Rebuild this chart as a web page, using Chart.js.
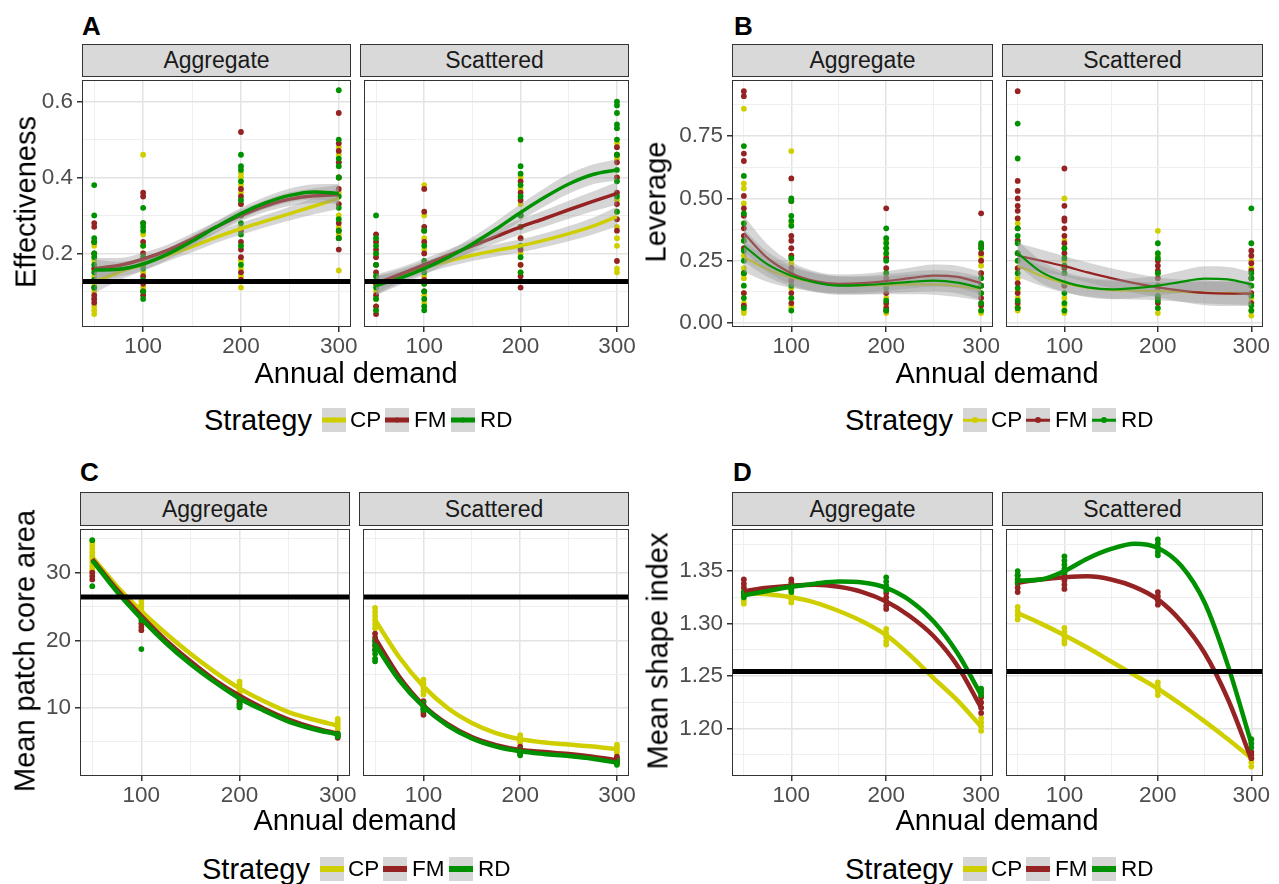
<!DOCTYPE html>
<html>
<head>
<meta charset="utf-8">
<script src="https://cdn.jsdelivr.net/npm/chart.js@4.4.1/dist/chart.umd.min.js"></script>
<style>
body{margin:0;background:#fff;width:1279px;height:884px;position:relative;overflow:hidden;font-family:"Liberation Sans",Arial,Helvetica,sans-serif}
canvas{position:absolute}
.t{position:absolute;white-space:nowrap;line-height:normal}
.tag{font-weight:bold;font-size:26px;color:#000;transform:translateY(-50%)}
.strip{position:absolute;box-sizing:border-box;background:#d9d9d9;border:1px solid #333;font-size:23px;color:#1a1a1a;display:flex;align-items:center;justify-content:center}
.xt{font-size:29px;color:#000;transform:translate(-50%,-50%)}
.yt{font-size:29px;color:#000;transform:translate(-50%,-50%) rotate(-90deg)}
.lgt{font-size:29px;color:#000;transform:translateY(-50%)}
.lgl{font-size:22.5px;color:#000;transform:translateY(-50%)}
.key{position:absolute;width:24px;height:24px;background:#d6d6d6;transform:translateY(-50%)}
.key i{position:absolute;left:0;right:0;top:50%;transform:translateY(-50%)}
.key b{position:absolute;left:50%;top:50%;border-radius:50%;transform:translate(-50%,-50%)}
</style>
</head>
<body>
<script>
// shared axes
const demand=[50,100,200,300];
const fitX=[50,75,100,125,150,175,200,225,250,275,300];
const xTicks=[50,100,150,200,250,300];
const xLabels=['','100','','200','','300'];
const strategies=['CP','FM','RD'];
const colors=['#cfcf00','#952323','#009100'];

// A - Effectiveness (points per demand level: 50, 100, 200, 300)
const effAggCP=[[0.23,0.22,0.18,0.16,0.14,0.12,0.10,0.08,0.06,0.05,0.04],[0.46,0.25,0.22,0.20,0.18,0.15,0.13,0.11,0.10],[0.41,0.40,0.38,0.36,0.33,0.27,0.22,0.18,0.16,0.14,0.11],[0.48,0.46,0.44,0.40,0.36,0.33,0.30,0.27,0.25,0.155]];
const effAggFM=[[0.28,0.27,0.23,0.20,0.16,0.13,0.11,0.09,0.08,0.07],[0.36,0.35,0.28,0.23,0.20,0.17,0.14,0.12,0.10,0.09],[0.52,0.37,0.35,0.33,0.30,0.26,0.23,0.21,0.19,0.15,0.13],[0.57,0.49,0.47,0.44,0.40,0.37,0.33,0.28,0.26,0.24,0.21]];
const effAggRD=[[0.38,0.30,0.24,0.23,0.20,0.19,0.17,0.15,0.13,0.11],[0.32,0.28,0.27,0.26,0.22,0.19,0.16,0.13,0.10,0.08],[0.46,0.43,0.42,0.39,0.34,0.30,0.28,0.25,0.22,0.17],[0.63,0.50,0.45,0.43,0.40,0.35,0.32,0.29,0.26,0.24]];
const effScatCP=[[0.23,0.20,0.17,0.14,0.12,0.10,0.08,0.06,0.05],[0.38,0.30,0.24,0.21,0.17,0.14,0.12,0.09,0.07],[0.40,0.37,0.33,0.30,0.27,0.24,0.20,0.17,0.15],[0.49,0.45,0.40,0.34,0.31,0.27,0.24,0.22,0.16,0.15]];
const effScatFM=[[0.25,0.23,0.21,0.19,0.17,0.15,0.12,0.09,0.06,0.04],[0.37,0.31,0.27,0.26,0.23,0.20,0.17,0.13,0.10],[0.39,0.36,0.34,0.30,0.27,0.24,0.21,0.17,0.14,0.11],[0.48,0.46,0.44,0.40,0.36,0.33,0.29,0.26,0.18]];
const effScatRD=[[0.30,0.24,0.22,0.20,0.17,0.14,0.11,0.08,0.05],[0.26,0.22,0.18,0.15,0.12,0.10,0.08,0.06,0.05],[0.50,0.43,0.41,0.38,0.35,0.30,0.27,0.22,0.19,0.15],[0.60,0.59,0.57,0.54,0.53,0.50,0.46,0.42,0.39,0.35,0.31]];
// smoothed fits at fitX, and half-width of the grey band
const effAggCPfit=[0.125,0.15,0.172,0.195,0.218,0.243,0.265,0.285,0.305,0.325,0.345];
const effAggFMfit=[0.16,0.168,0.185,0.208,0.238,0.27,0.30,0.325,0.343,0.352,0.355];
const effAggRDfit=[0.156,0.158,0.172,0.198,0.232,0.27,0.305,0.333,0.353,0.362,0.358];
const effScatCPfit=[0.115,0.14,0.163,0.18,0.195,0.208,0.22,0.235,0.252,0.272,0.297];
const effScatFMfit=[0.12,0.145,0.17,0.195,0.22,0.245,0.27,0.292,0.315,0.337,0.358];
const effScatRDfit=[0.115,0.135,0.16,0.19,0.225,0.265,0.308,0.348,0.383,0.408,0.42];
const effAggCPse=[0.03,0.022,0.018,0.016,0.015,0.015,0.016,0.016,0.018,0.022,0.028];
const effAggFMse=[0.028,0.02,0.017,0.015,0.015,0.015,0.015,0.016,0.018,0.02,0.025];
const effAggRDse=[0.028,0.02,0.017,0.015,0.015,0.015,0.015,0.016,0.018,0.02,0.025];
const effScatCPse=[0.025,0.018,0.016,0.015,0.015,0.016,0.017,0.018,0.02,0.022,0.026];
const effScatFMse=[0.025,0.018,0.016,0.015,0.016,0.018,0.02,0.022,0.024,0.026,0.03];
const effScatRDse=[0.025,0.018,0.016,0.016,0.018,0.02,0.022,0.024,0.026,0.026,0.028];
const effRef=0.126;
const effTicks=[0.1,0.2,0.3,0.4,0.5,0.6];
const effLabels=['','0.2','','0.4','','0.6'];

// B - Leverage
const levAggCP=[[0.86,0.56,0.54,0.48,0.40,0.33,0.27,0.22,0.18,0.12,0.08,0.05,0.04],[0.69,0.40,0.27,0.24,0.18,0.14,0.10,0.07,0.06],[0.33,0.30,0.27,0.20,0.15,0.10,0.07,0.04],[0.30,0.27,0.25,0.23,0.20,0.12,0.08,0.05,0.04]];
const levAggFM=[[0.93,0.91,0.68,0.65,0.51,0.46,0.43,0.38,0.35,0.30,0.20,0.12,0.07],[0.58,0.49,0.35,0.33,0.30,0.27,0.22,0.17,0.12,0.08],[0.46,0.26,0.22,0.18,0.12,0.08,0.06,0.05],[0.44,0.31,0.28,0.25,0.20,0.15,0.10,0.07]];
const levAggRD=[[0.71,0.59,0.44,0.40,0.33,0.29,0.25,0.20,0.15,0.10,0.06],[0.50,0.49,0.43,0.41,0.39,0.26,0.20,0.15,0.10,0.05],[0.38,0.34,0.32,0.30,0.28,0.25,0.20,0.14,0.09,0.05],[0.32,0.30,0.18,0.15,0.12,0.08,0.05]];
const levScatCP=[[0.42,0.40,0.33,0.25,0.22,0.18,0.13,0.10,0.07,0.05],[0.50,0.33,0.30,0.25,0.20,0.15,0.10,0.07,0.05,0.04],[0.37,0.27,0.20,0.15,0.10,0.06,0.04],[0.25,0.22,0.15,0.10,0.08,0.05,0.03]];
const levScatFM=[[0.93,0.57,0.53,0.50,0.47,0.45,0.42,0.38,0.33,0.28,0.22,0.16,0.12,0.08,0.06],[0.62,0.47,0.42,0.41,0.38,0.35,0.32,0.28,0.22,0.15],[0.25,0.23,0.21,0.18,0.14,0.10,0.08],[0.29,0.27,0.24,0.21,0.18,0.12,0.08]];
const levScatRD=[[0.80,0.66,0.38,0.35,0.32,0.28,0.25,0.20,0.14,0.09,0.06],[0.30,0.26,0.23,0.20,0.16,0.12,0.08,0.05],[0.32,0.28,0.26,0.20,0.15,0.11,0.09,0.06],[0.46,0.32,0.20,0.18,0.15,0.11,0.07,0.05]];
const levAggCPfit=[0.265,0.215,0.183,0.162,0.152,0.15,0.152,0.155,0.155,0.148,0.135];
const levAggFMfit=[0.36,0.26,0.20,0.168,0.157,0.16,0.168,0.18,0.19,0.185,0.16];
const levAggRDfit=[0.31,0.235,0.19,0.163,0.15,0.152,0.158,0.165,0.17,0.162,0.14];
const levScatCPfit=[0.23,0.19,0.16,0.142,0.133,0.13,0.128,0.125,0.122,0.12,0.12];
const levScatFMfit=[0.27,0.25,0.228,0.203,0.18,0.16,0.143,0.13,0.121,0.118,0.118];
const levScatRDfit=[0.28,0.205,0.165,0.143,0.135,0.14,0.15,0.165,0.178,0.175,0.155];
const levAggCPse=[0.06,0.05,0.042,0.038,0.036,0.036,0.037,0.04,0.042,0.044,0.046];
const levAggFMse=[0.07,0.055,0.045,0.04,0.038,0.038,0.04,0.042,0.045,0.045,0.046];
const levAggRDse=[0.065,0.05,0.043,0.039,0.037,0.037,0.038,0.041,0.043,0.044,0.046];
const levScatCPse=[0.045,0.04,0.037,0.036,0.036,0.036,0.037,0.04,0.044,0.046,0.048];
const levScatFMse=[0.05,0.045,0.04,0.04,0.04,0.04,0.04,0.045,0.05,0.05,0.05];
const levScatRDse=[0.05,0.045,0.04,0.04,0.04,0.04,0.04,0.045,0.05,0.05,0.05];
const levTicks=[0,0.125,0.25,0.375,0.5,0.625,0.75,0.875];
const levLabels=['0.00','','0.25','','0.50','','0.75',''];

// C - Mean patch core area
const coreAggCP=[[34.5,34.0,33.5,33.0,32.5,32.0,31.5,31.0,30.5,30.2],[25.8,25.3,24.8,24.3,23.8,23.4],[13.9,13.4,12.9,12.4,12.0],[8.4,8.0,7.6,7.2,6.8]];
const coreAggFM=[[30.0,29.5,29.0],[22.5,22.0,21.5],[11.4,11.0,10.6],[6.2,5.9,5.6]];
const coreAggRD=[[34.8,28.0],[23.0,18.7],[10.6,10.3,10.1],[6.2,6.0,5.8]];
const coreScatCP=[[24.8,24.2,23.6,23.0,22.4,21.8],[14.2,13.6,13.0,12.5,12.0],[6.0,5.6,5.2,4.9],[4.6,4.2,3.8,3.4]];
const coreScatFM=[[21.0,20.4,19.8,19.2,18.6],[11.0,10.4,9.9,9.4,9.0],[4.3,3.9,3.5,3.2],[2.8,2.5,2.2,1.9]];
const coreScatRD=[[20.0,19.3,18.6,18.0,17.3,16.9],[10.8,10.4,10.0,9.7],[3.8,3.5,3.2,3.0],[2.2,1.9,1.6]];
const coreAggCPfit=[32.3,28.0,24.3,21.0,18.0,15.3,12.9,11.0,9.4,8.3,7.4];
const coreAggFMfit=[32.0,27.5,23.6,20.0,16.9,14.1,11.8,9.9,8.3,7.1,6.2];
const coreAggRDfit=[31.8,27.2,23.2,19.6,16.5,13.8,11.4,9.6,8.0,6.9,6.1];
const coreScatCPfit=[23.0,17.5,13.2,10.0,7.8,6.3,5.4,4.9,4.6,4.3,3.9];
const coreScatFMfit=[20.3,14.6,10.4,7.6,5.7,4.5,3.8,3.5,3.2,2.8,2.3];
const coreScatRDfit=[19.4,14.1,10.2,7.4,5.5,4.3,3.6,3.2,2.9,2.5,1.9];
const coreRef=26.4;
const coreTicks=[5,10,15,20,25,30,35];
const coreLabels=['','10','','20','','30',''];

// D - Mean shape index
const shapeAggCP=[[1.335,1.330,1.326,1.322,1.319],[1.331,1.327,1.323,1.320],[1.295,1.291,1.287,1.283,1.280],[1.210,1.206,1.202,1.198]];
const shapeAggFM=[[1.342,1.338,1.334,1.330],[1.342,1.339,1.336,1.333],[1.329,1.325,1.321,1.317,1.314],[1.230,1.225,1.220,1.215]];
const shapeAggRD=[[1.330,1.327,1.325],[1.336,1.333,1.330],[1.344,1.340,1.336,1.332],[1.238,1.235,1.232]];
const shapeScatCP=[[1.316,1.312,1.308,1.304],[1.296,1.292,1.288,1.284,1.281],[1.244,1.240,1.236,1.232],[1.176,1.172,1.168,1.164]];
const shapeScatFM=[[1.346,1.342,1.338,1.334,1.330],[1.349,1.345,1.341,1.337,1.333],[1.330,1.326,1.322,1.318],[1.178,1.175,1.172]];
const shapeScatRD=[[1.350,1.346,1.342,1.339],[1.364,1.360,1.356,1.352,1.348],[1.380,1.376,1.372,1.368,1.365],[1.190,1.186,1.182]];
const shapeAggCPfit=[1.329,1.328,1.325,1.320,1.312,1.302,1.289,1.270,1.248,1.227,1.202];
const shapeAggFMfit=[1.331,1.334,1.336,1.337,1.335,1.330,1.321,1.307,1.288,1.260,1.220];
const shapeAggRDfit=[1.327,1.331,1.335,1.338,1.340,1.339,1.334,1.322,1.302,1.272,1.232];
const shapeScatCPfit=[1.310,1.300,1.289,1.277,1.264,1.251,1.238,1.223,1.207,1.190,1.172];
const shapeScatFMfit=[1.339,1.342,1.344,1.345,1.342,1.335,1.323,1.302,1.272,1.228,1.171];
const shapeScatRDfit=[1.341,1.342,1.350,1.362,1.371,1.376,1.372,1.355,1.320,1.260,1.186];
const shapeRef=1.2545;
const shapeTicks=[1.175,1.2,1.225,1.25,1.275,1.3,1.325,1.35,1.375];
const shapeLabels=['','1.20','','1.25','','1.30','','1.35',''];

const FONT='"Liberation Sans", Arial, Helvetica, sans-serif';
Chart.defaults.font.family=FONT;

const panels=[
 {tag:'A',ytitle:'Effectiveness',ymin:0.006,ymax:0.657,yt:effTicks,yl:effLabels,ref:effRef,lw:3.5,
  pts:[[effAggCP,effAggFM,effAggRD],[effScatCP,effScatFM,effScatRD]],
  fit:[[effAggCPfit,effAggFMfit,effAggRDfit],[effScatCPfit,effScatFMfit,effScatRDfit]],
  se:[[effAggCPse,effAggFMse,effAggRDse],[effScatCPse,effScatFMse,effScatRDse]],
  tagX:82,tagY:26,stripTop:44,top:76,lefts:[82,360],w:269,h:251,ytX:25.5,xtX:356,xtY:373,lgX:204,lgY:420,keyLine:5,dot:5},
 {tag:'B',ytitle:'Leverage',ymin:-0.016,ymax:0.975,yt:levTicks,yl:levLabels,ref:null,lw:2.2,
  pts:[[levAggCP,levAggFM,levAggRD],[levScatCP,levScatFM,levScatRD]],
  fit:[[levAggCPfit,levAggFMfit,levAggRDfit],[levScatCPfit,levScatFMfit,levScatRDfit]],
  se:[[levAggCPse,levAggFMse,levAggRDse],[levScatCPse,levScatFMse,levScatRDse]],
  tagX:734,tagY:26,stripTop:44,top:76,lefts:[732,1002],w:261,h:251,ytX:656,xtX:997,xtY:373,lgX:845,lgY:420,keyLine:2.5,dot:6},
 {tag:'C',ytitle:'Mean patch core area',ymin:-0.05,ymax:36.45,yt:coreTicks,yl:coreLabels,ref:coreRef,lw:4.5,
  pts:[[coreAggCP,coreAggFM,coreAggRD],[coreScatCP,coreScatFM,coreScatRD]],
  fit:[[coreAggCPfit,coreAggFMfit,coreAggRDfit],[coreScatCPfit,coreScatFMfit,coreScatRDfit]],
  se:null,
  tagX:80,tagY:472,stripTop:492,top:525,lefts:[80,359],w:270,h:251,ytX:25,xtX:355,xtY:820,lgX:202,lgY:869,keyLine:6,dot:5},
 {tag:'D',ytitle:'Mean shape index',ymin:1.155,ymax:1.39,yt:shapeTicks,yl:shapeLabels,ref:shapeRef,lw:4.5,
  pts:[[shapeAggCP,shapeAggFM,shapeAggRD],[shapeScatCP,shapeScatFM,shapeScatRD]],
  fit:[[shapeAggCPfit,shapeAggFMfit,shapeAggRDfit],[shapeScatCPfit,shapeScatFMfit,shapeScatRDfit]],
  se:null,
  tagX:733,tagY:472,stripTop:492,top:525,lefts:[732,1002],w:261,h:251,ytX:658,xtX:997,xtY:820,lgX:845,lgY:869,keyLine:6,dot:5}
];
const facetNames=['Aggregate','Scattered'];

// panel border on top of everything
const frame={id:'frame',afterDatasetsDraw(c){
 const a=c.chartArea,g=c.ctx;
 g.save();g.strokeStyle='#333';g.lineWidth=1;
 g.strokeRect(a.left+0.5,a.top+0.5,a.right-a.left-1,a.bottom-a.top-1);
 g.restore();
}};

function el(cls,html,x,y){
 const d=document.createElement('div');
 d.className='t '+cls;d.textContent=html;
 d.style.left=x+'px';d.style.top=y+'px';
 document.body.appendChild(d);return d;
}

function facet(p,f){
 const showY=f===0,yW=60*showY,xH=40,padR=24;
 const cv=document.createElement('canvas');
 cv.width=yW+p.w+padR;cv.height=p.h+xH;
 cv.style.left=(p.lefts[f]-yW)+'px';cv.style.top=p.top+'px';
 cv.style.width=cv.width+'px';cv.style.height=cv.height+'px';
 document.body.appendChild(cv);
 const ds=[];
 p.pts[f].forEach((cols,s)=>{
  const data=[];
  cols.forEach((vals,i)=>vals.forEach(v=>data.push({x:demand[i],y:v})));
  ds.push({label:strategies[s],data,showLine:false,pointRadius:2.9,pointBorderWidth:0,
   backgroundColor:colors[s],borderColor:colors[s],order:30-s});
 });
 p.fit[f].forEach((fit,s)=>{
  if(p.se){
   const se=p.se[f][s];
   ds.push({data:fit.map((y,i)=>({x:fitX[i],y:y+se[i]})),showLine:true,pointRadius:0,borderWidth:0,
    borderColor:'rgba(0,0,0,0)',backgroundColor:'rgba(153,153,153,0.4)',fill:'+1',cubicInterpolationMode:'monotone',order:20-2*s});
   ds.push({data:fit.map((y,i)=>({x:fitX[i],y:y-se[i]})),showLine:true,pointRadius:0,borderWidth:0,
    borderColor:'rgba(0,0,0,0)',fill:false,cubicInterpolationMode:'monotone',order:20-2*s});
  }
  ds.push({label:strategies[s],data:fit.map((y,i)=>({x:fitX[i],y})),showLine:true,pointRadius:0,
   borderColor:colors[s],borderWidth:p.lw,fill:false,cubicInterpolationMode:'monotone',order:19-2*s});
 });
 if(p.ref!==null){
  ds.push({data:[{x:37.5,y:p.ref},{x:312.5,y:p.ref}],showLine:true,pointRadius:0,
   borderColor:'#000',borderWidth:5,fill:false,order:0});
 }
 const yMajor=c=>p.yl[c.index]!=='';
 const xMajor=c=>xLabels[c.index]!=='';
 new Chart(cv,{
  type:'scatter',
  data:{datasets:ds},
  plugins:[frame],
  options:{
   responsive:false,animation:false,devicePixelRatio:1,
   layout:{padding:{left:0,right:padR,top:0,bottom:0}},
   plugins:{legend:{display:false},tooltip:{enabled:false}},
   scales:{
    x:{type:'linear',min:37.5,max:312.5,
     afterBuildTicks:s=>{s.ticks=xTicks.map(v=>({value:v}));},
     afterFit:s=>{s.height=xH;s.paddingLeft=0;s.paddingRight=0;},
     ticks:{autoSkip:false,maxRotation:0,padding:1,color:'#4d4d4d',font:{size:22.5},callback:(v,i)=>xLabels[i]},
     grid:{color:c=>xMajor(c)?'#e3e3e3':'#efefef',lineWidth:c=>xMajor(c)?1.5:1,tickLength:5,
      tickColor:c=>xMajor(c)?'#333':'rgba(0,0,0,0)'},
     border:{display:false}},
    y:{type:'linear',min:p.ymin,max:p.ymax,
     afterBuildTicks:s=>{s.ticks=p.yt.map(v=>({value:v}));},
     afterFit:s=>{s.width=yW;s.paddingTop=0;s.paddingBottom=0;},
     ticks:{display:showY,autoSkip:false,padding:4,color:'#4d4d4d',font:{size:22.5},callback:(v,i)=>p.yl[i]},
     grid:{color:c=>yMajor(c)?'#e3e3e3':'#efefef',lineWidth:c=>yMajor(c)?1.5:1,tickLength:5,drawTicks:showY,
      tickColor:c=>yMajor(c)?'#333':'rgba(0,0,0,0)'},
     border:{display:false}}
   }
  }
 });
}

panels.forEach(p=>{
 el('tag',p.tag,p.tagX,p.tagY);
 [0,1].forEach(f=>{
  const s=document.createElement('div');
  s.className='strip';s.textContent=facetNames[f];
  s.style.left=p.lefts[f]+'px';s.style.top=p.stripTop+'px';
  s.style.width=p.w+'px';s.style.height=(p.top-p.stripTop+1)+'px';
  document.body.appendChild(s);
  facet(p,f);
 });
 el('yt',p.ytitle,p.ytX,p.top+p.h/2);
 el('xt','Annual demand',p.xtX,p.xtY);
 el('lgt','Strategy',p.lgX,p.lgY);
 const keyOff=[118,181,247],txtOff=[146,210,276];
 strategies.forEach((name,s)=>{
  const k=document.createElement('div');
  k.className='key';k.style.left=(p.lgX+keyOff[s])+'px';k.style.top=p.lgY+'px';
  const line=document.createElement('i');line.style.height=p.keyLine+'px';line.style.background=colors[s];
  const dot=document.createElement('b');dot.style.width=p.dot+'px';dot.style.height=p.dot+'px';dot.style.background=colors[s];
  k.appendChild(line);k.appendChild(dot);document.body.appendChild(k);
  el('lgl',name,p.lgX+txtOff[s],p.lgY);
 });
});
</script>
</body>
</html>
